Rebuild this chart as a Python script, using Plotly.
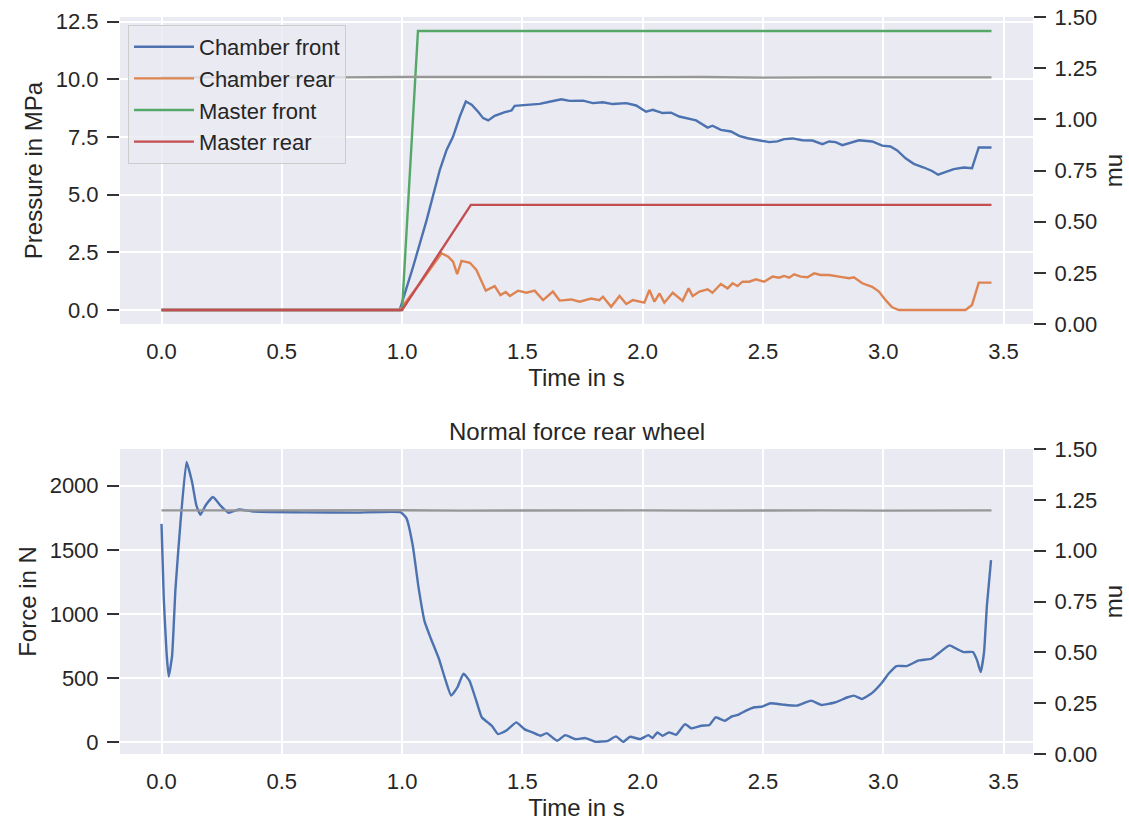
import plotly.graph_objects as go

# ---------------- data ----------------
t_front = [0, 0.99, 1.046, 1.102, 1.157, 1.185, 1.212, 1.24, 1.265, 1.289, 1.316, 1.337, 1.358, 1.385,
           1.427, 1.455, 1.468, 1.517, 1.572, 1.613, 1.662, 1.696, 1.752, 1.793, 1.835, 1.876, 1.932,
           1.973, 2.014, 2.042, 2.083, 2.118, 2.152, 2.222, 2.270, 2.29, 2.325, 2.367, 2.401, 2.436,
           2.471, 2.526, 2.56, 2.588, 2.623, 2.664, 2.706, 2.747, 2.775, 2.802, 2.83, 2.865, 2.899,
           2.954, 2.996, 3.03, 3.058, 3.093, 3.127, 3.169, 3.203, 3.228, 3.259, 3.293, 3.335, 3.369,
           3.397, 3.45]
chamber_front = [0, 0, 1.88, 3.9, 6.08, 6.94, 7.52, 8.39, 9.04, 8.9, 8.6, 8.32, 8.22, 8.42, 8.58, 8.65,
                 8.85, 8.9, 8.94, 9.03, 9.14, 9.07, 9.08, 8.97, 9.01, 8.93, 8.97, 8.87, 8.6, 8.68, 8.54,
                 8.56, 8.39, 8.22, 7.91, 7.99, 7.81, 7.74, 7.55, 7.45, 7.38, 7.28, 7.31, 7.41, 7.44,
                 7.36, 7.35, 7.19, 7.31, 7.28, 7.15, 7.26, 7.36, 7.31, 7.13, 7.09, 6.92, 6.58, 6.34,
                 6.18, 6.03, 5.87, 5.98, 6.11, 6.18, 6.15, 7.05, 7.05]

t_rear = [0, 0.99, 1.074, 1.164, 1.192, 1.212, 1.229, 1.247, 1.282, 1.309, 1.348, 1.385, 1.409, 1.431,
          1.448, 1.482, 1.517, 1.551, 1.586, 1.627, 1.655, 1.703, 1.738, 1.786, 1.82, 1.835, 1.869,
          1.904, 1.932, 1.959, 2.007, 2.028, 2.049, 2.07, 2.09, 2.125, 2.166, 2.191, 2.208, 2.236,
          2.27, 2.29, 2.325, 2.353, 2.374, 2.394, 2.415, 2.443, 2.471, 2.505, 2.54, 2.567, 2.588,
          2.609, 2.63, 2.657, 2.685, 2.713, 2.74, 2.775, 2.816, 2.858, 2.878, 2.913, 2.954, 2.982,
          3.01, 3.037, 3.065, 3.342, 3.369, 3.397, 3.45]
chamber_rear = [0, 0, 1.15, 2.46, 2.31, 2.1, 1.56, 2.13, 2.05, 1.74, 0.84, 1.04, 0.65, 0.78, 0.61,
                0.84, 0.75, 0.84, 0.43, 0.8, 0.41, 0.46, 0.36, 0.5, 0.43, 0.58, 0.14, 0.61, 0.26,
                0.43, 0.32, 0.87, 0.36, 0.72, 0.32, 0.75, 0.4, 0.94, 0.61, 0.8, 0.9, 0.75, 1.13,
                0.94, 1.16, 1.04, 1.23, 1.23, 1.33, 1.23, 1.45, 1.4, 1.48, 1.4, 1.55, 1.45, 1.42,
                1.59, 1.52, 1.52, 1.45, 1.38, 1.42, 1.16, 1.01, 0.8, 0.43, 0.12, 0, 0, 0.22, 1.19, 1.19]

t_master_front = [0, 1.0, 1.066, 3.45]
master_front = [0, 0, 12.1, 12.1]
t_master_rear = [0, 1.0, 1.286, 3.45]
master_rear = [0, 0, 4.56, 4.56]

t_mu = [0, 0.25, 0.5, 0.75, 1.0, 1.25, 1.5, 1.75, 2.0, 2.25, 2.5, 2.75, 3.0, 3.25, 3.45]
mu_top = [1.205, 1.204, 1.206, 1.205, 1.207, 1.206, 1.205, 1.204, 1.206, 1.207, 1.204, 1.205, 1.206, 1.205, 1.205]
mu_bottom = [1.198, 1.199, 1.198, 1.199, 1.199, 1.197, 1.198, 1.199, 1.198, 1.197, 1.199, 1.198, 1.197, 1.198, 1.198]

t_force = [0, 0.0095, 0.021, 0.03, 0.044, 0.058, 0.079, 0.104, 0.127, 0.145, 0.162, 0.183, 0.214, 0.245,
           0.279, 0.321, 0.383, 0.6, 0.8, 0.993, 1.018, 1.044, 1.069, 1.094, 1.120, 1.153, 1.179, 1.204,
           1.230, 1.255, 1.280, 1.306, 1.331, 1.356, 1.373, 1.399, 1.432, 1.475, 1.508, 1.542, 1.576,
           1.601, 1.644, 1.678, 1.720, 1.762, 1.804, 1.855, 1.889, 1.919, 1.948, 1.990, 2.024, 2.041,
           2.061, 2.083, 2.109, 2.139, 2.176, 2.202, 2.244, 2.278, 2.303, 2.342, 2.371, 2.396, 2.430,
           2.464, 2.497, 2.531, 2.582, 2.641, 2.700, 2.743, 2.802, 2.852, 2.878, 2.912, 2.954, 2.996,
           3.022, 3.055, 3.098, 3.148, 3.199, 3.233, 3.275, 3.309, 3.334, 3.373, 3.390, 3.405, 3.419,
           3.431, 3.448]
normal_force = [1703, 1117, 700, 513, 674, 1195, 1716, 2185, 2029, 1846, 1773, 1846, 1912, 1846, 1789,
                1815, 1799, 1792, 1790, 1794, 1747, 1538, 1200, 939, 808, 652, 495, 365, 430, 535, 482,
                339, 196, 156, 130, 65, 91, 156, 104, 78, 52, 73, 13, 57, 26, 34, 5, 13, 47, 5, 44, 26,
                57, 34, 78, 52, 78, 60, 143, 110, 130, 136, 196, 169, 203, 214, 248, 274, 279, 305, 295,
                287, 326, 292, 313, 352, 365, 339, 386, 469, 535, 595, 595, 639, 652, 699, 756, 725, 704,
                704, 639, 548, 704, 1069, 1421]

x_ticks = [0.0, 0.5, 1.0, 1.5, 2.0, 2.5, 3.0, 3.5]

# ---------------- style ----------------
BLUE, ORANGE, GREEN, RED, GRAY = "#4C72B0", "#DD8452", "#55A868", "#C44E52", "#979797"
BG = "#EAEAF2"
TXT = "#262626"
FONT = "Liberation Sans, Arial, sans-serif"
LW = 2.4
TICK_FS = 22
LABEL_FS = 24
W, H = 1129, 831

def px_x(a, b):
    return [a / W, b / W]

def px_y(top, bottom):
    return [1 - bottom / H, 1 - top / H]

fig = go.Figure()

fig.add_trace(go.Scatter(x=t_front, y=chamber_front, name="Chamber front", mode="lines",
                         line=dict(color=BLUE, width=LW), xaxis="x", yaxis="y"))
fig.add_trace(go.Scatter(x=t_rear, y=chamber_rear, name="Chamber rear", mode="lines",
                         line=dict(color=ORANGE, width=LW), xaxis="x", yaxis="y"))
fig.add_trace(go.Scatter(x=t_master_front, y=master_front, name="Master front", mode="lines",
                         line=dict(color=GREEN, width=LW), xaxis="x", yaxis="y"))
fig.add_trace(go.Scatter(x=t_master_rear, y=master_rear, name="Master rear", mode="lines",
                         line=dict(color=RED, width=LW), xaxis="x", yaxis="y"))
fig.add_trace(go.Scatter(x=t_mu, y=mu_top, name="mu", mode="lines", showlegend=False,
                         line=dict(color=GRAY, width=LW), xaxis="x", yaxis="y2"))

fig.add_trace(go.Scatter(x=t_force, y=normal_force, name="Normal force", mode="lines", showlegend=False,
                         line=dict(color=BLUE, width=LW, shape="spline", smoothing=0.4),
                         xaxis="x2", yaxis="y3"))
fig.add_trace(go.Scatter(x=t_mu, y=mu_bottom, name="mu", mode="lines", showlegend=False,
                         line=dict(color=GRAY, width=LW), xaxis="x2", yaxis="y4"))

xrange = [-0.1725, 3.6225]
common_x = dict(range=xrange, tickvals=x_ticks, ticktext=[f"{v:.1f}" for v in x_ticks],
                showgrid=True, gridcolor="white", gridwidth=1.5, zeroline=False, showline=False,
                automargin=False,
                ticks="outside", ticklen=8, tickcolor="rgba(0,0,0,0)",
                tickfont=dict(size=TICK_FS, color=TXT, family=FONT),
                title=dict(text="Time in s", font=dict(size=LABEL_FS, color=TXT, family=FONT), standoff=4))
common_y = dict(showgrid=True, gridcolor="white", gridwidth=1.5, zeroline=False, showline=False,
                automargin=False,
                ticks="outside", ticklen=12, tickwidth=2, tickcolor="#333333", ticklabelstandoff=4,
                tickfont=dict(size=TICK_FS, color=TXT, family=FONT))
right_y = dict(showgrid=False, zeroline=False, showline=False, range=[0, 1.5], automargin=False,
               tickvals=[0, 0.25, 0.5, 0.75, 1.0, 1.25, 1.5],
               ticktext=["0.00", "0.25", "0.50", "0.75", "1.00", "1.25", "1.50"],
               ticks="outside", ticklen=12, tickwidth=2, tickcolor="#333333", ticklabelstandoff=4,
               tickfont=dict(size=TICK_FS, color=TXT, family=FONT), side="right",
               title=dict(text="mu", font=dict(size=LABEL_FS, color=TXT, family=FONT), standoff=8))

fig.update_layout(
    width=W, height=H, margin=dict(l=0, r=0, t=0, b=0, autoexpand=False),
    paper_bgcolor="white", plot_bgcolor=BG,
    font=dict(family=FONT, color=TXT),
    xaxis=dict(domain=px_x(120, 1033), anchor="y", **common_x),
    yaxis=dict(domain=px_y(17, 324), anchor="x", range=[-0.605, 12.705],
               tickvals=[0, 2.5, 5, 7.5, 10, 12.5],
               ticktext=["0.0", "2.5", "5.0", "7.5", "10.0", "12.5"],
               title=dict(text="Pressure in MPa", font=dict(size=LABEL_FS, color=TXT, family=FONT), standoff=6),
               **common_y),
    yaxis2=dict(overlaying="y", anchor="x", **right_y),
    xaxis2=dict(domain=px_x(120, 1033), anchor="y3", **common_x),
    yaxis3=dict(domain=px_y(449, 754), anchor="x2", range=[-90, 2286],
                tickvals=[0, 500, 1000, 1500, 2000],
                ticktext=["0", "500", "1000", "1500", "2000"],
                title=dict(text="Force in N", font=dict(size=LABEL_FS, color=TXT, family=FONT), standoff=6),
                **common_y),
    yaxis4=dict(overlaying="y3", anchor="x2", **right_y),
    legend=dict(x=128 / W, y=1 - 25 / H, xanchor="left", yanchor="top",
                bgcolor="rgba(234,234,242,0.8)", bordercolor="#cccccc", borderwidth=1,
                itemwidth=60,
                font=dict(size=TICK_FS, color=TXT, family=FONT), tracegroupgap=0),
    annotations=[dict(text="Normal force rear wheel", x=(120 + 1033) / 2 / W, y=1 - 431 / H,
                      xref="paper", yref="paper", xanchor="center", yanchor="middle",
                      showarrow=False, font=dict(size=LABEL_FS, color=TXT, family=FONT))],
)

fig.write_html("out.html")
